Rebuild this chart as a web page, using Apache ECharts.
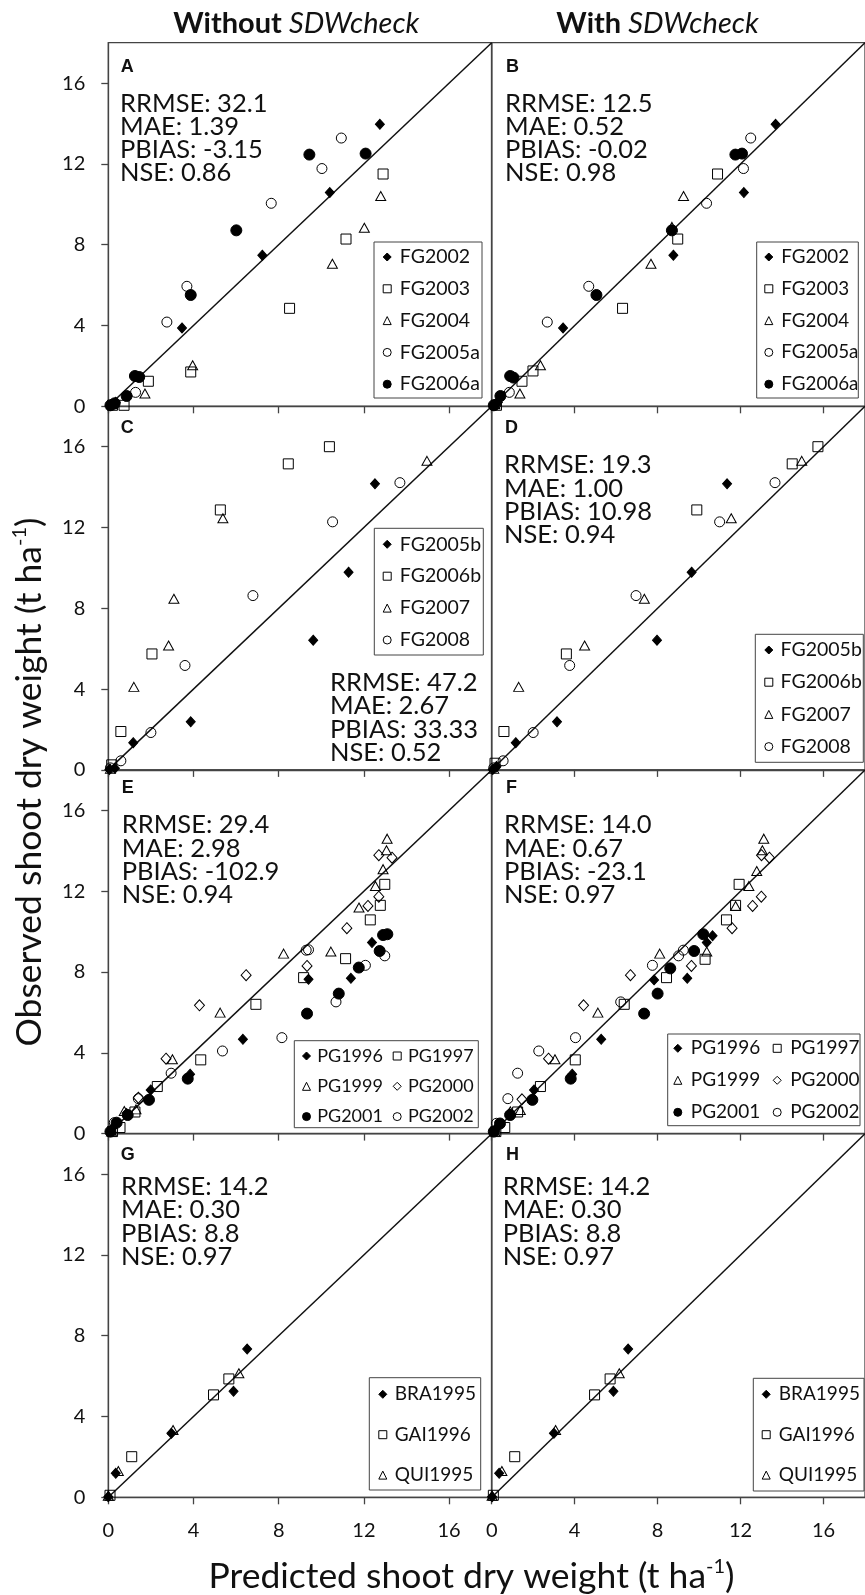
<!DOCTYPE html>
<html><head><meta charset="utf-8">
<script src="https://cdn.jsdelivr.net/npm/echarts@6/dist/echarts.min.js"></script>
<style>html,body{margin:0;padding:0;background:#fff}#c{width:865px;height:1595px}</style>
</head><body><div id="c"></div>
<script>
// ---------------- DATA ----------------
const TICKS = [0, 4, 8, 12, 16];
const ONE_TO_ONE_LEFT = [[0, 0], [18, 18]];
const ONE_TO_ONE_RIGHT = [[-2, -2], [18, 18]];

// Panel A (without SDWcheck) [predicted, observed]
const A_FG2002 = [[0.1,0.05],[0.35,0.2],[3.46,3.88],[7.23,7.48],[10.4,10.58],[12.75,13.96]];
const A_FG2003 = [[0.2,0.05],[0.74,0.05],[1.88,1.24],[3.87,1.7],[8.51,4.85],[11.16,8.28],[12.9,11.5]];
const A_FG2004 = [[0.15,0.1],[1.72,0.63],[3.96,2.03],[10.52,7.06],[12.02,8.84],[12.79,10.41]];
const A_FG2005a = [[0.2,0.1],[1.28,0.69],[2.75,4.17],[3.69,5.94],[7.65,10.05],[10.03,11.77],[10.94,13.28]];
const A_FG2006a = [[0.1,0.05],[0.3,0.15],[0.86,0.51],[1.25,1.5],[1.45,1.45],[3.87,5.51],[6.01,8.71],[9.44,12.46],[12.08,12.51]];
// Panel B (with SDWcheck)
const B_FG2002 = [[0.1,0.05],[0.3,0.2],[3.44,3.88],[8.76,7.48],[12.16,10.58],[13.69,13.96]];
const B_FG2003 = [[0.23,0.05],[1.46,1.24],[1.99,1.75],[6.31,4.85],[8.97,8.28],[10.89,11.5]];
const B_FG2004 = [[0.15,0.1],[1.36,0.63],[2.35,2.03],[7.68,7.06],[8.69,8.88],[9.25,10.41]];
const B_FG2005a = [[0.2,0.1],[0.85,0.69],[2.68,4.17],[4.68,5.94],[10.36,10.05],[12.14,11.77],[12.49,13.28]];
const B_FG2006a = [[0.1,0.05],[0.42,0.51],[0.89,1.5],[1.05,1.42],[5.05,5.51],[8.69,8.71],[11.75,12.46],[12.07,12.51]];
// Panel C
const C_FG2005b = [[0.05,0.02],[0.31,0.08],[1.17,1.35],[3.87,2.38],[9.62,6.42],[11.28,9.79],[12.52,14.16]];
const C_FG2006b = [[0.16,0.25],[0.59,1.9],[2.05,5.74],[5.26,12.87],[8.45,15.15],[10.38,16.0]];
const C_FG2007 = [[0.1,0.05],[1.2,4.11],[2.83,6.16],[3.08,8.47],[5.38,12.46],[14.96,15.3]];
const C_FG2008 = [[0.1,0.1],[0.59,0.45],[2.0,1.85],[3.6,5.17],[6.79,8.63],[10.53,12.28],[13.69,14.22]];
// Panel D
const D_FG2005b = [[0.05,0.02],[0.23,0.17],[1.16,1.35],[3.15,2.38],[7.97,6.42],[9.64,9.79],[11.35,14.16]];
const D_FG2006b = [[0.16,0.33],[0.59,1.9],[3.6,5.74],[9.89,12.87],[14.49,15.15],[15.73,16.0]];
const D_FG2007 = [[0.1,0.05],[1.3,4.11],[4.48,6.16],[7.36,8.47],[11.55,12.46],[14.95,15.3]];
const D_FG2008 = [[0.1,0.1],[0.55,0.45],[2.0,1.85],[3.76,5.17],[6.96,8.63],[10.99,12.28],[13.66,14.22]];
// Panel E
const E_PG1996 = [[0.1,0.1],[0.28,0.38],[0.86,0.99],[1.99,2.16],[3.84,2.94],[6.32,4.67],[9.4,7.64],[11.39,7.69],[12.38,9.46]];
const E_PG1997 = [[0.2,0.1],[0.55,0.3],[1.25,1.07],[2.3,2.33],[4.34,3.65],[6.93,6.4],[9.17,7.72],[11.14,8.66],[12.3,10.58],[12.77,11.3],[12.98,12.34]];
const E_PG1999 = [[0.15,0.1],[0.75,1.12],[1.3,1.2],[3.01,3.68],[5.25,5.99],[8.23,8.91],[10.45,9.01],[11.77,11.19],[12.54,12.26],[12.9,13.09],[13.06,14.03],[13.09,14.6]];
const E_PG2000 = [[1.41,1.78],[2.71,3.71],[4.28,6.35],[6.47,7.84],[9.33,8.3],[11.2,10.17],[12.19,11.27],[12.7,11.73],[13.32,13.66],[12.7,13.78]];
const E_PG2001 = [[0.1,0.1],[0.39,0.54],[0.91,0.92],[1.91,1.67],[3.73,2.72],[9.33,5.94],[10.82,6.93],[11.76,8.22],[12.74,9.04],[12.9,9.83],[13.1,9.87]];
const E_PG2002 = [[0.28,0.54],[1.41,1.73],[2.95,2.99],[5.36,4.09],[8.15,4.75],[9.29,9.08],[9.4,9.1],[10.69,6.52],[12.07,8.33],[12.98,8.8]];
// Panel F
const F_PG1996 = [[0.1,0.1],[0.3,0.35],[0.86,0.99],[2.04,2.16],[3.88,2.94],[5.28,4.67],[7.83,7.61],[9.43,7.69],[10.37,9.46],[10.65,9.79]];
const F_PG1997 = [[0.2,0.1],[0.63,0.3],[1.25,1.07],[2.35,2.33],[4.03,3.65],[6.39,6.4],[8.43,7.72],[10.29,8.63],[11.32,10.58],[11.76,11.3],[11.93,12.34]];
const F_PG1999 = [[0.15,0.1],[0.9,1.1],[1.38,1.17],[3.05,3.68],[5.12,5.99],[8.1,8.91],[10.37,9.01],[11.76,11.27],[12.4,12.26],[12.78,13.0],[13.05,14.03],[13.12,14.6]];
const F_PG2000 = [[1.46,1.7],[2.74,3.71],[4.43,6.35],[6.69,7.84],[9.63,8.3],[11.59,10.17],[12.58,11.27],[13.0,11.73],[13.39,13.66],[13.01,13.78]];
const F_PG2001 = [[0.1,0.1],[0.4,0.5],[0.89,0.92],[1.96,1.67],[3.81,2.72],[7.35,5.94],[8.0,6.93],[8.61,8.18],[9.76,9.04],[10.2,9.87]];
const F_PG2002 = [[0.23,0.51],[0.78,1.73],[1.25,2.99],[2.27,4.09],[4.04,4.75],[6.22,6.52],[7.75,8.33],[9.01,8.8],[9.24,9.08]];
// Panel G
const G_BRA1995 = [[0.0,0.03],[0.35,1.19],[2.96,3.17],[5.88,5.25],[6.52,7.34]];
const G_GAI1996 = [[0.08,0.1],[1.1,2.01],[4.94,5.07],[5.66,5.86]];
const G_QUI1995 = [[0.0,0.08],[0.47,1.3],[3.04,3.33],[6.13,6.14]];
// Panel H
const H_BRA1995 = [[0.02,0.03],[0.36,1.19],[3.0,3.17],[5.87,5.25],[6.58,7.34]];
const H_GAI1996 = [[0.08,0.1],[1.11,2.01],[4.96,5.07],[5.71,5.86]];
const H_QUI1995 = [[0.02,0.08],[0.49,1.3],[3.08,3.33],[6.15,6.14]];

// Statistics text
const STATS_A = ['RRMSE: 32.1','MAE: 1.39','PBIAS: -3.15','NSE: 0.86'];
const STATS_B = ['RRMSE: 12.5','MAE: 0.52','PBIAS: -0.02','NSE: 0.98'];
const STATS_C = ['RRMSE: 47.2','MAE: 2.67','PBIAS: 33.33','NSE: 0.52'];
const STATS_D = ['RRMSE: 19.3','MAE: 1.00','PBIAS: 10.98','NSE: 0.94'];
const STATS_E = ['RRMSE: 29.4','MAE: 2.98','PBIAS: -102.9','NSE: 0.94'];
const STATS_F = ['RRMSE: 14.0','MAE: 0.67','PBIAS: -23.1','NSE: 0.97'];
const STATS_G = ['RRMSE: 14.2','MAE: 0.30','PBIAS: 8.8','NSE: 0.97'];
const STATS_H = ['RRMSE: 14.2','MAE: 0.30','PBIAS: 8.8','NSE: 0.97'];

const COL_TITLES = ['Without ', 'With '];
const COL_TITLE_ITALIC = 'SDWcheck';
const X_TITLE = 'Predicted shoot dry weight (t ha';
const Y_TITLE = 'Observed shoot dry weight (t ha';
const UNIT_SUP = '-1';

// ---------------- STYLE / LAYOUT ----------------
const FONT = 'Lato';
const INK = '#111';
const AXIS = '#444';
const COL_LEFT = [108.3, 491.7];
const ROW_TOP = [42.7, 406.3, 770, 1133.7];
const PW = 383.4, PH = 363.6;

const MARKS = {
  FG2002: ['diamond', [9, 10], '#000'], FG2005b: ['diamond', [9, 10], '#000'], PG1996: ['diamond', [9, 10], '#000'], BRA1995: ['diamond', [9, 10], '#000'],
  FG2003: ['rect', 10, 'none'], FG2006b: ['rect', 10, 'none'], PG1997: ['rect', 10, 'none'], GAI1996: ['rect', 10, 'none'],
  FG2004: ['triangle', [10, 9], 'none'], FG2007: ['triangle', [10, 9], 'none'], PG1999: ['triangle', [10, 9], 'none'], QUI1995: ['triangle', [10, 9], 'none'],
  FG2005a: ['circle', 10, 'none'], FG2008: ['circle', 10, 'none'], PG2002: ['circle', 10, 'none'],
  FG2006a: ['circle', 11, '#000'], PG2001: ['circle', 11, '#000'],
  PG2000: ['diamond', [10, 11], 'none']
};

// legend: box [x0,y0,x1,y1]; cols: marker centre x per column; y: first row centre; pitch; fs; tpad
const panels = [
  {L:'A', c:0, r:0, s:[['FG2002',A_FG2002],['FG2003',A_FG2003],['FG2004',A_FG2004],['FG2005a',A_FG2005a],['FG2006a',A_FG2006a]], st:STATS_A, sx:120, sy:103.3, lx:120.7, ly:66.7,
   lg:{box:[374,242,482,398], cols:[386.7], y:257, pitch:31.8, fs:19.5, tpad:3.6}},
  {L:'B', c:1, r:0, s:[['FG2002',B_FG2002],['FG2003',B_FG2003],['FG2004',B_FG2004],['FG2005a',B_FG2005a],['FG2006a',B_FG2006a]], st:STATS_B, sx:505, sy:103.3, lx:506, ly:66.7,
   lg:{box:[756.7,242,858.3,398], cols:[768.3], y:257, pitch:31.8, fs:18.8, tpad:3.5}},
  {L:'C', c:0, r:1, s:[['FG2005b',C_FG2005b],['FG2006b',C_FG2006b],['FG2007',C_FG2007],['FG2008',C_FG2008]], st:STATS_C, sx:330, sy:682.7, lx:120.7, ly:428.3,
   lg:{box:[374.3,528.3,483.3,655], cols:[386.7], y:544.3, pitch:31.9, fs:19.5, tpad:3.6}},
  {L:'D', c:1, r:1, s:[['FG2005b',D_FG2005b],['FG2006b',D_FG2006b],['FG2007',D_FG2007],['FG2008',D_FG2008]], st:STATS_D, sx:504, sy:465, lx:505, ly:428.3,
   lg:{box:[755.3,634.3,863.3,762.3], cols:[768.3], y:650, pitch:32.2, fs:19.5, tpad:2.7}},
  {L:'E', c:0, r:2, s:[['PG1996',E_PG1996],['PG1997',E_PG1997],['PG1999',E_PG1999],['PG2000',E_PG2000],['PG2001',E_PG2001],['PG2002',E_PG2002]], st:STATS_E, sx:121.7, sy:825, lx:121.7, ly:788.3,
   lg:{box:[294.3,1040.7,478.3,1127.7], cols:[306, 396.7], y:1056, pitch:30.3, fs:18, tpad:1.7}},
  {L:'F', c:1, r:2, s:[['PG1996',F_PG1996],['PG1997',F_PG1997],['PG1999',F_PG1999],['PG2000',F_PG2000],['PG2001',F_PG2001],['PG2002',F_PG2002]], st:STATS_F, sx:504, sy:825, lx:506, ly:788.3,
   lg:{box:[667.7,1034,860,1125.7], cols:[677.3, 776.7], y:1048.3, pitch:32, fs:19, tpad:4}},
  {L:'G', c:0, r:3, s:[['BRA1995',G_BRA1995],['GAI1996',G_GAI1996],['QUI1995',G_QUI1995]], st:STATS_G, sx:121, sy:1186.7, lx:120.7, ly:1155,
   lg:{box:[369.3,1377.7,480.7,1490], cols:[382.3], y:1394.3, pitch:40.4, fs:19, tpad:3}},
  {L:'H', c:1, r:3, s:[['BRA1995',H_BRA1995],['GAI1996',H_GAI1996],['QUI1995',H_QUI1995]], st:STATS_H, sx:502.7, sy:1186.7, lx:506, ly:1155,
   lg:{box:[753.3,1378.3,864,1491], cols:[765.7], y:1394.3, pitch:40.4, fs:19, tpad:3.6}}
];

const grid = [], xAxis = [], yAxis = [], series = [], legend = [], graphic = [];
const axisLineStyle = {color: AXIS, width: 1.3};
const hide18 = v => (v === 18 ? '' : String(v));
const ICON = 8, ROWH = 22;

panels.forEach((p, i) => {
  grid.push({left: COL_LEFT[p.c], top: ROW_TOP[p.r], width: PW, height: PH, show: true, borderColor: AXIS, borderWidth: 1.3, containLabel: false});
  xAxis.push({type:'value', gridIndex:i, min:0, max:18, interval:4,
    axisLine:{show:true, onZero:false, lineStyle:axisLineStyle},
    axisTick:{show:true, inside:false, length:7, customValues:TICKS, lineStyle:axisLineStyle},
    axisLabel:{show:p.r === 3, customValues:TICKS, formatter:hide18, fontFamily:FONT, fontSize:20, color:INK, margin:23},
    splitLine:{show:false}});
  yAxis.push({type:'value', gridIndex:i, min:0, max:18, interval:4,
    axisLine:{show:true, onZero:false, lineStyle:axisLineStyle},
    axisTick:{show:p.c === 0, inside:false, length:7, customValues:TICKS, lineStyle:axisLineStyle},
    axisLabel:{show:p.c === 0, customValues:TICKS, formatter:hide18, fontFamily:FONT, fontSize:20, color:INK, margin:23},
    splitLine:{show:false}});
  series.push({type:'line', xAxisIndex:i, yAxisIndex:i, data: p.c === 0 ? ONE_TO_ONE_LEFT : ONE_TO_ONE_RIGHT,
    symbol:'none', clip:false, silent:true, z:2, lineStyle:{color:INK, width:1.5}});
  p.s.forEach(([name, data]) => {
    const m = MARKS[name];
    series.push({type:'scatter', name, xAxisIndex:i, yAxisIndex:i, data, symbol:m[0], symbolSize:m[1], clip:false, z:3,
      itemStyle:{color: m[2] === 'none' ? 'rgba(255,255,255,0)' : m[2], borderColor:'#000', borderWidth:1, opacity:1},
      emphasis:{disabled:true}});
  });
  // legend: one borderless legend component per column + a frame
  const lg = p.lg, names = p.s.map(d => d[0]), nCols = lg.cols.length;
  lg.cols.forEach((cx, k) => {
    const colNames = names.filter((_, j) => j % nCols === k);
    legend.push({data: colNames, left: cx - ICON / 2, top: lg.y - ROWH / 2, orient: 'vertical',
      itemWidth: ICON, itemHeight: ICON, itemGap: lg.pitch - ROWH, padding: 0,
      selectedMode: false, itemStyle: {borderWidth: 1, borderColor: '#000'},
      textStyle: {fontFamily: FONT, fontSize: lg.fs, lineHeight: ROWH, color: INK, padding: [0, 0, 0, lg.tpad]}});
  });
  graphic.push({type:'rect', silent:true, shape:{x:lg.box[0], y:lg.box[1], width:lg.box[2]-lg.box[0], height:lg.box[3]-lg.box[1]},
    style:{fill:'none', stroke:'#444', lineWidth:1}});
  graphic.push({type:'text', x:p.lx, y:p.ly, style:{text:p.L, fontFamily:'Liberation Sans', fontWeight:'bold', fontSize:18, fill:INK, align:'left', verticalAlign:'middle'}});
  graphic.push({type:'text', x:p.sx, y:p.sy - 11.65, style:{text:p.st.join('\n'), fontFamily:FONT, fontSize:25.5, lineHeight:23.3, fill:INK, align:'left', verticalAlign:'top'}});
});

// column titles
[[296.3, 0], [657.5, 1]].forEach(([x, k]) => {
  graphic.push({type:'text', x, y:24, style:{text:'{b|' + COL_TITLES[k] + '}{i|' + COL_TITLE_ITALIC + '}', align:'center', verticalAlign:'middle',
    rich:{b:{fontFamily:FONT, fontWeight:'bold', fontSize:29, fill:INK}, i:{fontFamily:FONT, fontStyle:'italic', fontSize:29, fill:INK}}}});
});
const titleRich = {a:{fontFamily:FONT, fontSize:35.5, lineHeight:40, fill:INK}, s:{fontFamily:FONT, fontSize:20, lineHeight:20, verticalAlign:'top', fill:INK}};
graphic.push({type:'text', x:471.5, y:1577, style:{text:'{a|' + X_TITLE + '}{s|' + UNIT_SUP + '}{a|)}', align:'center', verticalAlign:'middle', rich:titleRich}});
graphic.push({type:'text', x:30, y:782, rotation:Math.PI/2, style:{text:'{a|' + Y_TITLE + '}{s|' + UNIT_SUP + '}{a|)}', align:'center', verticalAlign:'middle', rich:titleRich}});

const chart = echarts.init(document.getElementById('c'), null, {renderer:'canvas'});
chart.setOption({animation:false, backgroundColor:'#fff', grid, xAxis, yAxis, series, legend, graphic});
</script></body></html>
